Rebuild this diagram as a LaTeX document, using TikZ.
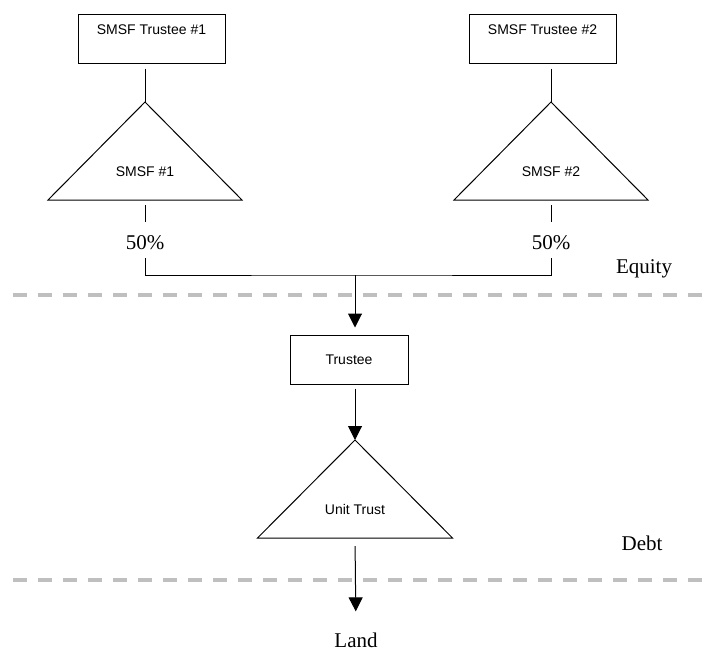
\documentclass[tikz,border=0pt]{standalone}
\usepackage{fontspec}
\setmainfont{Liberation Serif}
\newfontfamily\boxfont{Liberation Sans}
\usetikzlibrary{arrows.meta}

\tikzset{
  entbox/.style={draw, line width=0.75pt, inner sep=0pt, align=center,
    font=\boxfont\fontsize{10.5}{12.6}\selectfont},
  fundtext/.style={inner sep=0pt, font=\boxfont\fontsize{10.5}{12.6}\selectfont},
  lbl/.style={inner sep=0pt, font=\fontsize{15.75}{18}\selectfont},
  link/.style={line width=0.75pt},
  flow/.style={line width=0.75pt, -{Triangle[width=10.5pt,length=10.5pt]}},
  fund/.style={line width=0.75pt, line join=miter},
  divider/.style={draw=gray!50, line width=3pt, dash pattern=on 10.5pt off 8.25pt},
}

\begin{document}
\begin{tikzpicture}[x=0.75pt,y=0.75pt,yscale=-1,xscale=1]
\useasboundingbox (0,0) rectangle (702,650);

% Trustee boxes
\node[entbox, minimum width=110.25pt, minimum height=36.75pt] (t1) at (151.5,38.5) {SMSF Trustee \#1\\\mbox{}};
\node[entbox, minimum width=110.25pt, minimum height=36.75pt] (t2) at (542.5,38.5) {SMSF Trustee \#2\\\mbox{}};

% SMSF #1
\coordinate (f1top) at (145,102);
\coordinate (f1base) at (145,200);
\draw[fund] (f1top) -- ++(-97,98) -- ++(194,0) -- cycle;
\node[fundtext] (f1) at (145,172) {SMSF \#1};

% SMSF #2
\coordinate (f2top) at (551,102);
\coordinate (f2base) at (551,200);
\draw[fund] (f2top) -- ++(-97,98) -- ++(194,0) -- cycle;
\node[fundtext] (f2) at (551,172) {SMSF \#2};

% Text Node
\node[lbl] (p1) at (145,243) {50\%};
\node[lbl] (p2) at (551,243) {50\%};

% Straight Lines
\draw[link, shorten <=3.75pt] (t1.south -| f1top) -- (f1top);
\draw[link, shorten <=3.75pt] (t2.south -| f2top) -- (f2top);
\draw[link, shorten <=3.75pt, shorten >=10.5pt] (f1base) -- (p1.north);
\draw[link, shorten <=3.75pt, shorten >=10.5pt] (f2base) -- (p2.north);

\coordinate (eq) at (355,275);
\draw[link, shorten <=6pt, shorten >=6pt] (p1.south) |- (eq) -| (p2.south);

% Trustee
\node[entbox, minimum width=88.5pt, minimum height=36.75pt] (tr) at (349,359.5) {Trustee};
\draw[flow, shorten >=5.25pt] (eq) -- (eq |- tr.north);

% Unit Trust
\coordinate (uttop) at (355,440);
\coordinate (utbase) at (355,538);
\draw[fund] (uttop) -- ++(-97.5,98) -- ++(195,0) -- cycle;
\node[fundtext] (ut) at (355,509) {Unit Trust};
\draw[flow, shorten <=3pt] (eq |- tr.south) -- (uttop);

% Land
\node[lbl] (land) at (356,640) {Land};
\draw[flow, shorten <=6pt, shorten >=15.75pt] (utbase) -- (land.north);

% Dividers
\draw[divider] (13,295) -- (702,295);
\draw[divider] (13,580) -- (702,580);

% Text Node
\node[lbl] (equity) at (644,269) {Equity};
\node[lbl] (debt) at (642,543) {Debt};

\end{tikzpicture}
\end{document}
